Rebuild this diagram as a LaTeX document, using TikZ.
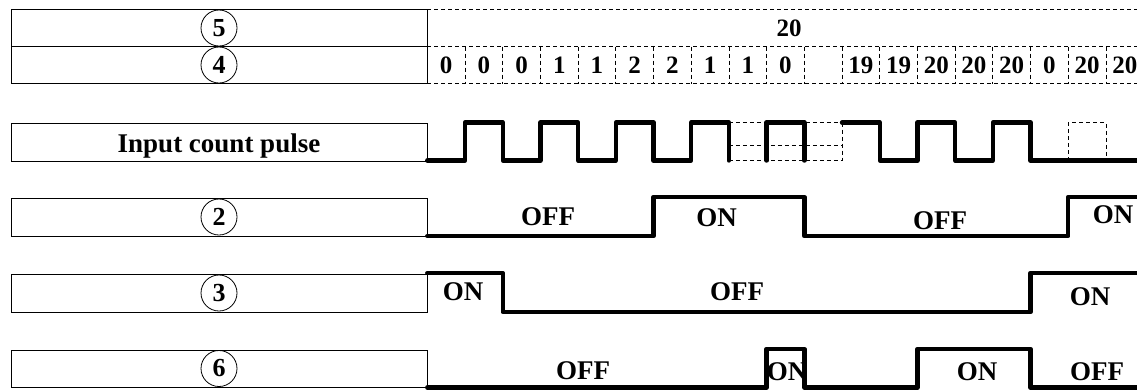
\documentclass[tikz,border=0pt]{standalone}
\usepackage{fontspec}
\setmainfont{Liberation Serif}
\usetikzlibrary{positioning}

\begin{document}
\begin{tikzpicture}[x=1pt, y=-1pt,
    namebox/.style={draw, line width=0.9pt, inner sep=0pt, outer sep=0pt, minimum width=416pt, minimum height=37pt},
    circnum/.style={circle, draw, line width=0.8pt, inner sep=0pt, minimum size=36pt, font=\fontsize{26}{26}\selectfont\bfseries},
    lvl/.style={font=\fontsize{27}{27}\selectfont\bfseries, inner sep=0pt},
    val/.style={font=\fontsize{25}{25}\selectfont\bfseries, inner sep=0pt},
    wave/.style={line width=4.4pt, line join=round, line cap=round},
    cellline/.style={line width=0.8pt, dash pattern=on 4pt off 3pt}]

    \useasboundingbox (0,0) rectangle (1137,389);

    % name column
    \node[namebox] (b5) at (219,28) {};
    \node[namebox] (b4) [below=0pt of b5] {};
    \node[namebox, minimum height=38pt] (bin) at (219,142) {};
    \node[namebox, minimum height=38pt] (b2) [below=37pt of bin] {};
    \node[namebox, minimum height=38pt] (b3) [below=38pt of b2] {};
    \node[namebox] (b6) [below=38pt of b3] {};

    \node[circnum] (n5) at (b5) {5};
    \node[circnum] (n4) at (b4) {4};
    \node[lvl, anchor=base] (tin) at (219,152.5) {Input count pulse};
    \node[circnum] (n2) at (b2) {2};
    \node[circnum] (n3) at (b3) {3};
    \node[circnum] (n6) at (b6) {6};

    \begin{scope}[shift={(427.3,0)}, x=37.7pt]

        % count values
        \draw[cellline] (0,9.3) -- (18.9,9.3) (0,46.5) -- (18.9,46.5) (0,83.5) -- (18.9,83.5);
        \foreach \k in {1,...,18}
            \draw[cellline] (\k,46.5) -- (\k,83.5);
        \node[val] (set) at (9.6,28) {20};
        \foreach \v [count=\i from 0] in {0,0,0,1,1,2,2,1,1,0,{},19,19,20,20,20,0,20,20}
            \node[val] (v\i) at (\i+0.5,65.5) {\v};

        % input count pulse
        \draw[wave] (0,160.5) \foreach \k in {1,3,5,7} { -- (\k,160.5) -- (\k,122.5) -- (\k+1,122.5) -- (\k+1,160.5) };
        \draw[cellline] (8,122.5) -- (11,122.5) (8,145) -- (11,145) (8,160.5) -- (11,160.5) (11,122.5) -- (11,160.5);
        \draw[wave] (9,160.5) -- (9,122.5) -- (10,122.5) -- (10,160.5);
        \draw[wave] (11,122.5) -- (12,122.5) \foreach \k in {12,14} { -- (\k,160.5) -- (\k+1,160.5) -- (\k+1,122.5) -- (\k+2,122.5) } -- (16,160.5) -- (18.9,160.5);
        \draw[cellline] (17,160.5) -- (17,122.5) -- (18,122.5) -- (18,160.5);

        % output 2
        \draw[wave] (0,236) -- (6,236) -- (6,197) -- (10,197) -- (10,236) -- (17,236) -- (17,197) -- (18.9,197);

        % output 3
        \draw[wave] (0,273) -- (2,273) -- (2,312) -- (16,312) -- (16,273) -- (18.9,273);

        % output 6
        \draw[wave] (0,387.5) -- (9,387.5) -- (9,349) -- (10,349) -- (10,387.5) -- (13,387.5) -- (13,349) -- (16,349) -- (16,387.5) -- (18.9,387.5);

    \end{scope}

    \node[lvl] (o2a) at (548,216.5) {OFF};
    \node[lvl] (o2b) at (716.5,217.5) {ON};
    \node[lvl] (o2c) at (940,221) {OFF};
    \node[lvl] (o2d) at (1113,214.5) {ON};

    \node[lvl] (o3a) at (463,292) {ON};
    \node[lvl] (o3b) at (737,292) {OFF};
    \node[lvl] (o3c) at (1090,297) {ON};

    \node[lvl] (o6a) at (583,371) {OFF};
    \node[lvl] (o6b) at (787,372) {ON};
    \node[lvl] (o6c) at (977,372) {ON};
    \node[lvl] (o6d) at (1097,372) {OFF};

\end{tikzpicture}
\end{document}
